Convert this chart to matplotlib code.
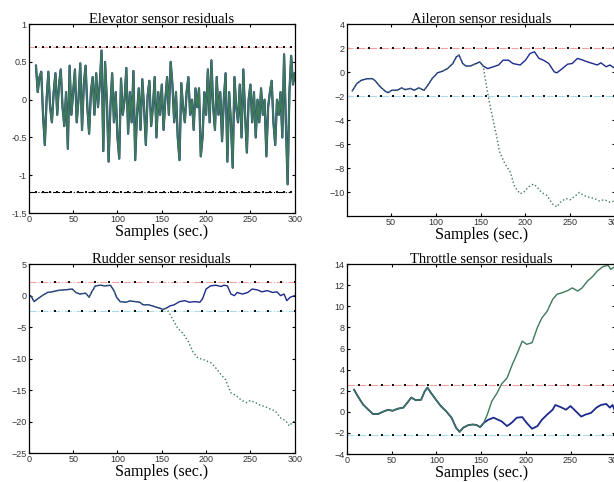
import numpy as np
import matplotlib
matplotlib.use("Agg")
import matplotlib.pyplot as plt

plt.rcParams['font.family'] = ['Liberation Sans', 'DejaVu Sans']

# ---- Elevator: both residuals overlap ----
elev_x = np.arange(8, 301, 2)
elev_y = [0.45, 0.1, 0.3, 0.37, -0.2, -0.6, 0.0, 0.37, -0.1, -0.3,
          0.1, 0.35, -0.2, 0.2, 0.4, -0.1, -0.35, 0.1, -0.65, 0.45,
          -0.2, 0.1, 0.4, -0.3, 0.0, 0.48, -0.4, 0.2, 0.45, -0.1,
          -0.45, 0.1, 0.3, -0.2, 0.35, -0.1, 0.2, 0.65, -0.68, 0.5,
          0.0, -0.82, -0.1, 0.35, -0.3, 0.1, -0.5, -0.78, 0.28, -0.2,
          0.0, 0.42, -0.45, 0.1, -0.3, 0.38, -0.8, -0.2, 0.15, -0.4,
          0.27, -0.1, -0.6, 0.05, 0.25, -0.35, -0.1, 0.3, -0.5, 0.1,
          -0.2, 0.2, -0.4, 0.0, 0.3, -0.2, 0.5, 0.2, -0.3, 0.1,
          -0.5, -0.8, 0.22, -0.1, -0.3, 0.1, 0.3, -0.2, 0.0, -0.4,
          0.15, -0.1, 0.15, -0.75, -0.5, 0.1, -0.2, 0.4, -0.3, 0.52,
          -0.1, -0.4, 0.3, -0.2, 0.1, -0.55, 0.0, 0.35, -0.82, 0.1,
          -0.3, -0.9, 0.3, -0.1, -0.3, 0.2, -0.5, 0.4, -0.2, -0.7,
          0.0, 0.2, -0.3, 0.1, -0.5, 0.0, -0.3, 0.15, -0.2, 0.0,
          -0.75, -0.1, 0.1, 0.25, -0.3, -0.6, 0.0, -0.2, 0.1, -0.5,
          0.6, -0.3, -1.12, 0.1, 0.58, 0.2, 0.35]
elev_thr = [0.7, -1.22]

# ---- Aileron ----
ail_x = [7, 12, 17, 23, 29, 32, 38, 44, 47, 51, 57, 62, 66, 72, 76, 81, 87, 91, 96,
         102, 108, 113, 119, 123, 126, 130, 134, 139, 145, 149, 153]
ail_y = [-1.55, -0.95, -0.67, -0.55, -0.53, -0.67, -1.2, -1.6, -1.7, -1.5, -1.5, -1.3,
         -1.45, -1.35, -1.5, -1.3, -1.5, -1.1, -0.53, -0.05, 0.1, 0.3, 0.72, 1.28, 1.42,
         0.72, 0.5, 0.53, 0.72, 0.86, 0.5]
ail_bx = [158, 164, 170, 175, 181, 186, 194, 200, 205, 210, 215, 220, 226, 232, 235,
          241, 247, 252, 258, 264, 269, 275, 280, 284, 290, 294, 300]
ail_by = [0.3, 0.45, 0.6, 1.0, 1.0, 0.72, 0.6, 1.0, 1.55, 1.7, 1.15, 1.0, 0.72, 0.03,
          -0.05, 0.3, 0.67, 0.72, 1.15, 1.0, 0.86, 0.72, 0.6, 0.78, 0.45, 0.6, 0.3]
ail_gx = [156, 160, 164, 168, 171, 177, 183, 188, 194, 198, 203, 209, 213, 218, 224,
          230, 235, 239, 245, 250, 256, 260, 265, 271, 277, 282, 288, 294, 300]
ail_gy = [-0.95, -2.6, -4.0, -5.4, -6.6, -7.6, -8.3, -9.55, -10.1, -10.0, -9.55, -9.3,
          -9.55, -10.0, -10.25, -10.95, -11.2, -10.8, -10.5, -10.6, -10.25, -10.0, -10.25,
          -10.4, -10.5, -10.7, -10.6, -10.8, -10.7]
ail_thr = [2.0, -2.0]

# ---- Rudder ----
rud_x = [0, 2, 6, 10, 15, 21, 26, 32, 38, 43, 49, 53, 58, 64, 68, 71, 75, 81, 86, 92,
         96, 99, 103, 109, 114, 120, 125, 129, 135, 140, 144, 148, 151, 155]
rud_y = [-0.25, 0.0, -0.95, -0.5, 0.0, 0.5, 0.6, 0.8, 0.9, 0.95, 1.05, 0.5, 0.25, 0.4,
         -0.25, 0.6, 1.55, 1.65, 1.55, 1.65, 0.8, -0.25, -0.95, -1.05, -0.85, -0.95,
         -1.05, -1.45, -1.45, -1.65, -1.85, -2.0, -2.2, -2.0]
rud_bx = [159, 164, 170, 176, 181, 187, 193, 196, 200, 205, 211, 217, 220, 224, 228,
          232, 235, 241, 247, 252, 258, 263, 269, 275, 280, 284, 288, 291, 295, 300]
rud_by = [-1.65, -1.45, -0.95, -0.8, -1.05, -0.95, -1.05, -0.5, 1.05, 1.55, 1.65, 1.45,
          1.65, 1.55, 0.25, 0.0, 0.5, 0.25, 0.5, 1.05, 0.9, 0.6, 0.8, 0.5, 0.6, 0.0,
          0.25, -0.8, -0.25, 0.0]
rud_gx = [159, 163, 168, 174, 180, 185, 191, 196, 200, 206, 211, 217, 222, 228, 233,
          239, 245, 250, 256, 261, 267, 273, 278, 284, 290, 294, 297, 300]
rud_gy = [-2.9, -3.9, -5.2, -6.0, -7.3, -8.9, -9.95, -10.1, -10.35, -10.7, -11.5,
          -12.55, -13.35, -15.45, -15.8, -16.5, -17.0, -16.65, -17.0, -17.4, -17.65,
          -18.05, -18.3, -19.4, -19.9, -20.7, -20.15, -19.9]
rud_thr = [2.1, -2.5]

# ---- Throttle ----
thr_x = [8, 12, 18, 24, 29, 35, 40, 46, 51, 57, 63, 66, 72, 77, 83, 87, 90, 94, 100,
         105, 111, 117, 122, 126, 130, 136, 141, 145, 149, 153]
thr_y = [2.1, 1.5, 0.7, 0.2, -0.2, -0.2, 0.0, 0.2, 0.1, 0.3, 0.4, 0.7, 1.35, 1.1, 1.15,
         1.95, 2.3, 1.8, 1.1, 0.55, 0.05, -0.55, -1.5, -1.9, -1.5, -1.25, -1.2, -1.25,
         -1.45, -1.05]
thr_bx = [158, 164, 169, 173, 179, 184, 190, 196, 201, 207, 213, 218, 224, 230, 233,
          239, 245, 250, 256, 262, 267, 273, 279, 284, 290, 294, 297, 300]
thr_by = [-0.75, -0.55, -0.75, -0.9, -1.35, -1.05, -0.55, -0.5, -1.05, -1.6, -1.35,
          -0.75, -0.25, 0.2, 0.65, 0.45, 0.2, 0.55, 0.05, -0.45, -0.25, -0.1, 0.4, 0.65,
          0.75, 0.4, 0.65, 0.0]
thr_gx = [157, 162, 168, 173, 179, 185, 190, 196, 201, 207, 213, 218, 224, 230, 235,
          241, 247, 252, 258, 263, 269, 275, 280, 286, 292, 295, 300]
thr_gy = [-0.25, 1.0, 1.8, 2.65, 3.2, 4.5, 5.45, 6.7, 6.4, 6.55, 8.0, 8.9, 9.55, 10.65,
          11.15, 11.3, 11.5, 11.75, 11.45, 11.75, 12.4, 12.85, 13.35, 13.75, 13.9, 13.5,
          13.8]
thr_thr = [2.53, -2.15]

BLUE = '#1c2a8c'
GREEN = '#3e7a5a'
RED = '#f4a0a0'
CYAN = '#a8dcec'

fig = plt.figure(figsize=(6.14, 4.82), dpi=100)
ax1 = fig.add_axes([0.047, 0.558, 0.433, 0.392])
ax2 = fig.add_axes([0.565, 0.552, 0.437, 0.398])
ax3 = fig.add_axes([0.047, 0.060, 0.433, 0.392])
ax4 = fig.add_axes([0.565, 0.058, 0.437, 0.394])


def thresholds(ax, lv, every, lowcol):
    xs = np.arange(0, 301, every)
    ax.plot(xs, np.full(len(xs), lv[0]), '-.', color=RED, lw=0.8)
    ax.plot(xs, np.full(len(xs), lv[0]), 's', color='#111111', ms=1.7, mew=0)
    ax.plot(xs, np.full(len(xs), lv[1]), '-.', color=lowcol, lw=0.8)
    ax.plot(xs, np.full(len(xs), lv[1]), 's', color='#111111', ms=1.7, mew=0)


def style(ax, title):
    ax.set_title(title, family='Liberation Serif', fontsize=10.5, pad=1)
    ax.set_xlabel('Samples (sec.)', family='Liberation Serif', fontsize=11.5, labelpad=0)
    ax.tick_params(direction='in', length=2.5, labelsize=6.5, pad=1.5,
                   top=True, right=True, colors='k', labelcolor='#333333')
    for s in ax.spines.values():
        s.set_linewidth(0.9)


# elevator
thresholds(ax1, elev_thr, 8, 'k')
ax1.plot(elev_x, elev_y, color=BLUE, lw=1.6)
ax1.plot(elev_x, elev_y, color=GREEN, lw=1.3)
ax1.set_xlim(0, 300)
ax1.set_ylim(-1.5, 1)
ax1.set_yticks([-1.5, -1, -0.5, 0, 0.5, 1])
ax1.set_yticklabels(['-1.5', '-1', '-0.5', '0', '0.5', '1'])
style(ax1, 'Elevator sensor residuals')

# aileron
thresholds(ax2, ail_thr, 13, CYAN)
ax2.plot(ail_x + ail_bx, ail_y + ail_by, color=BLUE, lw=1.0)
ax2.plot(ail_x + ail_gx, ail_y + ail_gy, ':', color=GREEN, lw=1.0)
ax2.set_xlim(1, 300)
ax2.set_ylim(-11.95, 4)
ax2.set_xticks([50, 100, 150, 200, 250, 300])
ax2.set_yticks([-10, -8, -6, -4, -2, 0, 2, 4])
style(ax2, 'Aileron sensor residuals')

# rudder
thresholds(ax3, rud_thr, 15, CYAN)
ax3.plot(rud_x + rud_bx, rud_y + rud_by, color=BLUE, lw=1.0)
ax3.plot(rud_x + rud_gx, rud_y + rud_gy, ':', color=GREEN, lw=1.0)
ax3.set_xlim(0, 300)
ax3.set_ylim(-25, 5)
style(ax3, 'Rudder sensor residuals')

# throttle
thresholds(ax4, thr_thr, 13, CYAN)
ax4.plot(thr_x + thr_bx, thr_y + thr_by, color=BLUE, lw=1.3)
ax4.plot(thr_x + thr_gx, thr_y + thr_gy, color=GREEN, lw=1.0)
ax4.set_xlim(0, 300)
ax4.set_ylim(-4, 14)
ax4.set_yticks(np.arange(-4, 15, 2))
style(ax4, 'Throttle sensor residuals')

fig.savefig('out.png', dpi=100)
